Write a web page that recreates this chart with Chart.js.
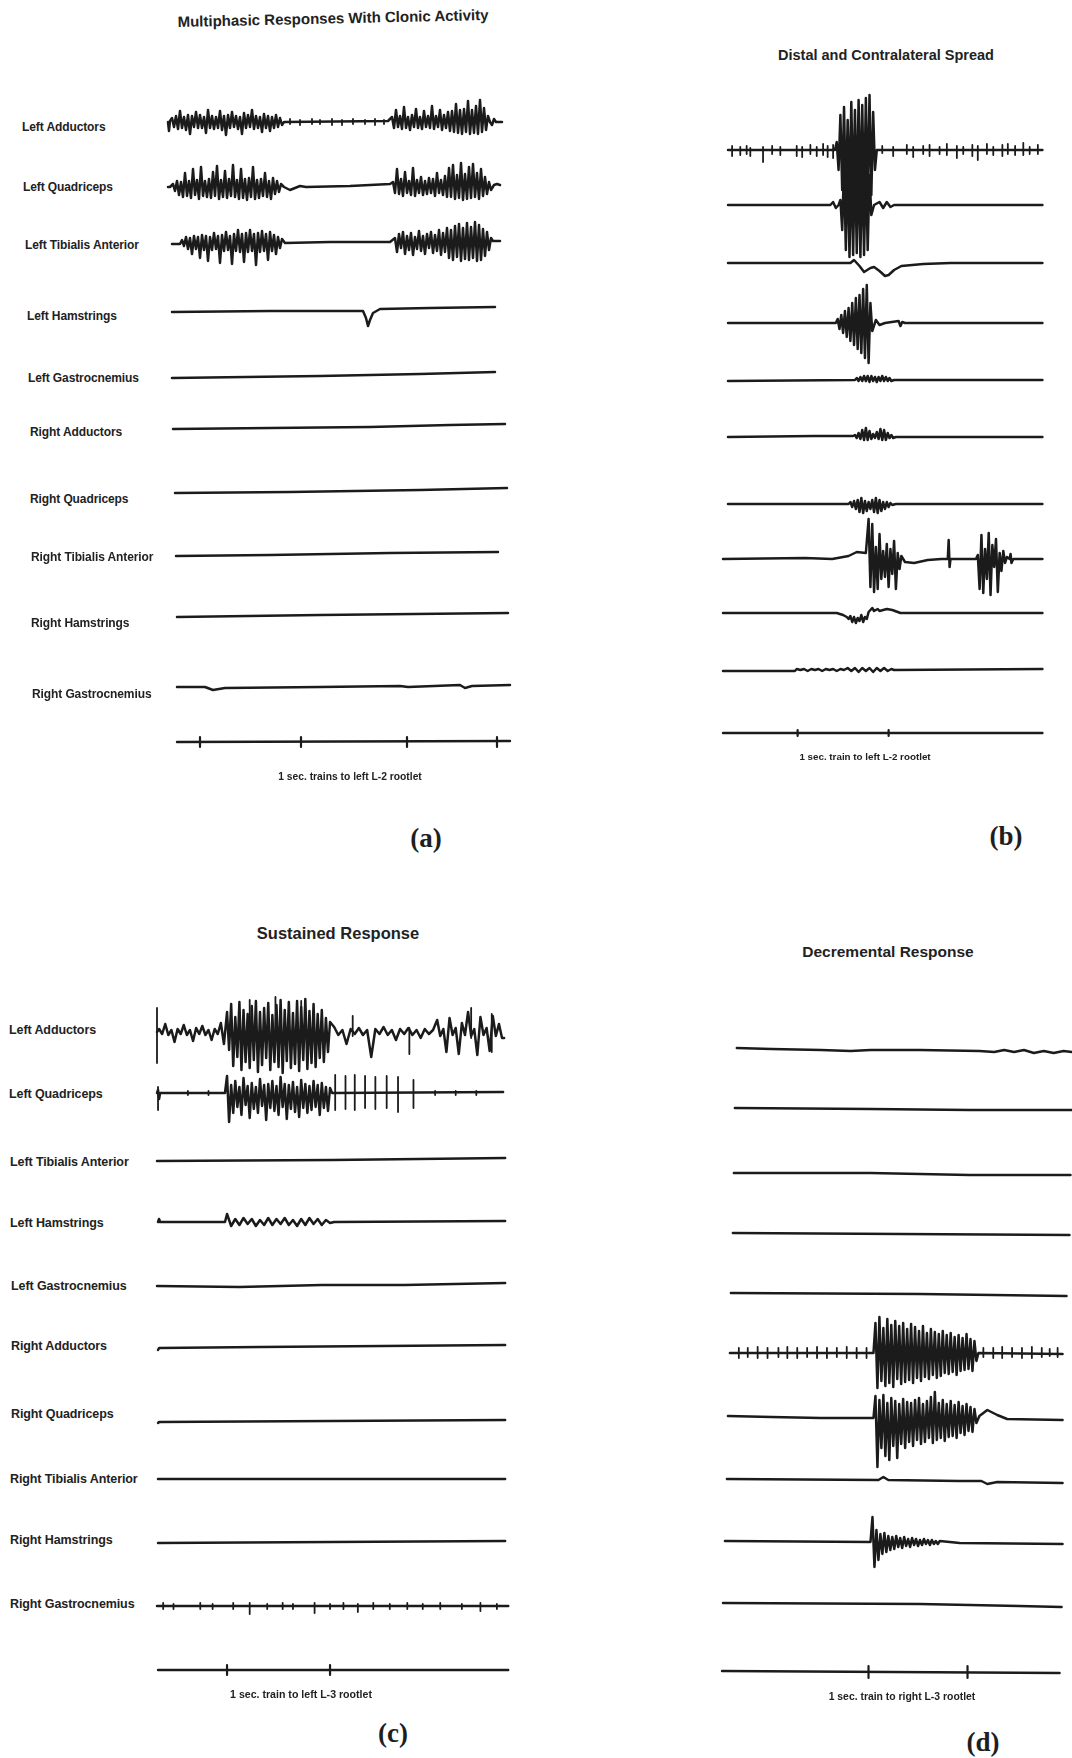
<!DOCTYPE html>
<html>
<head>
<meta charset="utf-8">
<title>EMG responses to rootlet stimulation</title>
<script src="https://cdn.jsdelivr.net/npm/chart.js@4.4.1/dist/chart.umd.min.js"></script>
<style>
  html, body { margin: 0; padding: 0; background: #fff; }
  #page { position: relative; width: 1072px; height: 1758px; overflow: hidden; background: #fff;
          font-family: "Liberation Sans", Arial, sans-serif; color: #222; }
  #page canvas { position: absolute; }
  .title { position: absolute; white-space: nowrap; font-weight: 700; transform: translate(-50%, -50%); }
  .label { position: absolute; white-space: nowrap; font-weight: 700; transform: translateY(-50%); letter-spacing: -0.1px; }
  .caption { position: absolute; white-space: nowrap; font-weight: 700; transform: translate(-50%, -50%); }
  .letter { position: absolute; font-family: "Liberation Serif", "Times New Roman", serif; font-weight: 700;
            font-size: 27px; transform: translate(-50%, -50%); color: #1e1e1e; }
</style>
</head>
<body>
<div id="page"></div>
<script>
// ---------------------------------------------------------------------------
// Recorded EMG traces. Time in seconds from the start of each sweep,
// amplitude in arbitrary display units (positive = upward deflection).
// A trace is a list of pieces: [t, v] single samples, or
// {from, step, v:[...]} runs of evenly sampled values.
// Spike lists hold isolated unit discharges as [t, up, down].
// ---------------------------------------------------------------------------

const muscles = ["Left Adductors", "Left Quadriceps", "Left Tibialis Anterior", "Left Hamstrings",
  "Left Gastrocnemius", "Right Adductors", "Right Quadriceps", "Right Tibialis Anterior",
  "Right Hamstrings", "Right Gastrocnemius"];

// ----- (a) Multiphasic responses with clonic activity -----
const stimTicksA = [0.30, 1.31, 2.37, 3.27];

const aLeftAdductors = [
  [-0.02, 0], [-0.01, -9], [0.0, 1],
  { from: 0.02, step: 0.02, v: [4,-5,6,-7,11,-6,5,-8,7,-12,6,-5,10,-6,7,-6,5,-11,12,-6,6,-7,5,-6,11,-8,6,-13,7,-6,10,-5,6,-7,5,-12,9,-6,7,-5,12,-7,6,-6,5,-10,8,-6,6,-9,5,-6,7,-5,4,-3] },
  [1.14, 0], [2.18, 1],
  { from: 2.22, step: 0.02, v: [5,-6,12,-5,6,-7,15,-6,5,-8,7,-5,13,-6,5,-7,11,-5,6,-6,16,-7,6,-5,12,-8,7,-6,10,-9,11,-10,18,-11,12,-12,13,-10,21,-12,12,-11,16,-12,22,-10,14,-8,6] },
  [3.2, 0], [3.22, -3], [3.24, 3], [3.26, 0], [3.32, 0]
];
const aLeftAdductorSpikes = [[1.2,3,2],[1.3,2,3],[1.42,3,2],[1.5,2,2],[1.62,3,3],[1.72,2,3],[1.83,3,2],[1.95,2,2],[2.05,3,3],[2.14,2,2]];
const aLeftQuadriceps = [
  [-0.02, 0], [0.0, 0],
  { from: 0.03, step: 0.02, v: [3,-4,6,-8,5,-10,14,-9,6,-11,18,-8,7,-12,20,-9,6,-10,8,-11,15,-9,21,-12,7,-10,16,-11,8,-9,22,-10,7,-12,18,-11,8,-13,9,-10,20,-12,7,-11,8,-9,14,-10,6,-12,9,-7,6,-5,3] },
  [1.14, 0], [1.2, -3], [1.25, -1], [1.3, 1], [1.36, 0], [1.8, 1], [2.2, 3],
  { from: 2.23, step: 0.02, v: [5,-6,18,-7,8,-9,15,-6,6,-8,19,-9,7,-6,10,-8,6,-7,9,-6,8,-9,14,-6,7,-8,11,-10,19,-10,22,-12,12,-11,24,-13,13,-12,20,-11,23,-10,14,-12,18,-9,10,-7,5,-3] },
  [3.24, 2], [3.27, 3], [3.3, 2]
];
const aLeftTibialis = [
  [0.02, -2], [0.1, -2],
  { from: 0.12, step: 0.02, v: [2,-4,5,-7,4,-12,6,-7,5,-16,7,-8,6,-19,5,-8,9,-7,6,-21,7,-9,10,-8,6,-22,8,-9,12,-10,8,-20,9,-10,12,-9,8,-23,9,-10,11,-9,8,-18,10,-9,7,-12,5,-6,3] },
  [1.15, -1], [1.6, 0], [2.2, 0],
  { from: 2.25, step: 0.02, v: [4,-10,8,-6,10,-12,6,-8,9,-13,5,-7,11,-9,6,-12,8,-6,10,-11,7,-9,12,-13,9,-10,14,-16,12,-18,16,-15,18,-19,14,-17,19,-18,15,-16,20,-19,17,-18,13,-14,10,-8,4] },
  [3.23, 1], [3.3, 1]
];
const aLeftHamstrings = [[0.02, 0], [1.0, 1], [1.93, 1], [1.96, -6], [1.98, -14], [2.0, -8], [2.03, -1], [2.1, 3], [2.6, 4], [3.25, 5]];
const aLeftGastrocnemius = [[0.02, -1], [1.5, 1], [2.5, 3], [3.25, 5]];
const aRightAdductors = [[0.03, -1], [1.0, 0], [2.0, 1], [2.8, 3], [3.35, 4]];
const aRightQuadriceps = [[0.05, -1], [1.2, 0], [2.5, 2], [3.37, 4]];
const aRightTibialis = [[0.06, -2], [1.0, -1], [2.2, 1], [3.28, 2]];
const aRightHamstrings = [[0.07, -2], [1.5, 0], [3.38, 2]];
const aRightGastrocnemius = [[0.07, 0], [0.35, 0], [0.43, -3], [0.55, -1], [1.5, 0], [2.3, 1], [2.38, 0], [2.9, 2], [2.95, -1], [3.02, 1], [3.4, 2]];
const aStimLine = [[0.07, 0], [3.4, 1]];

// ----- (b) Distal and contralateral spread -----
const stimTicksB = [0.82, 1.82];

const bTrace1 = [
  [0.055, 0], [1.23, 0],
  { from: 1.25, step: 0.02, v: [8,-20,35,-40,43,-50,30,-45,48,-52,40,-55,50,-48,45,-55,52,-50,55,-45,38,-20] },
  [1.69, 0], [3.51, 0]
];
const bSpikes1 = [[0.10,4,6],[0.19,3,5],[0.26,4,4],[0.30,2,6],[0.44,3,12],[0.54,4,4],[0.63,3,5],[0.81,4,6],[0.87,3,7],
  [0.96,5,4],[1.03,3,6],[1.10,6,5],[1.15,4,7],[1.21,5,8],[1.75,4,3],[1.87,3,6],[2.02,5,4],[2.09,3,7],[2.20,4,4],
  [2.27,5,6],[2.38,3,4],[2.46,6,5],[2.57,4,8],[2.64,3,4],[2.74,5,6],[2.80,4,10],[2.90,6,4],[2.97,3,5],[3.07,5,6],
  [3.13,6,4],[3.21,4,5],[3.30,7,5],[3.37,3,4],[3.46,5,4]];
const bTrace2 = [
  [0.055, 0], [1.18, 0], [1.21, 3], [1.24, -3], [1.27, 0],
  { from: 1.29, step: 0.02, v: [5,-25,40,-45,50,-52,45,-50,55,-48,52,-52,48,-50,42,-45,30,-10] },
  [1.66, 0], [1.72, 3], [1.76, -3], [1.80, 3], [1.84, -2], [1.88, 0], [3.51, 0]
];
const bTrace3 = [[0.055, 0], [1.40, 0], [1.44, 3], [1.50, -3], [1.55, -9], [1.62, -5], [1.66, -4], [1.72, -8],
  [1.78, -13], [1.82, -12], [1.88, -7], [1.96, -3], [2.2, -1], [2.5, 0], [3.51, 0]];
const bTrace4 = [
  [0.055, 0], [1.24, 0],
  { from: 1.26, step: 0.02, v: [4,-6,8,-10,12,-14,15,-18,20,-22,25,-26,28,-30,34,-35,38,-40,20,-8] },
  [1.68, 3], [1.72, -2], [1.78, 0], [1.93, 2], [1.95, -3], [1.97, 1], [2.0, 0], [3.51, 0]
];
const bTrace5 = [
  [0.055, -1], [1.45, 0],
  { from: 1.47, step: 0.02, v: [2,-1,3,-1,4,-1,4,-2,4,-1,3,-2,3,-1,4,-1,3,-1,2,-1] },
  [1.88, 0], [3.51, 0]
];
const bTrace6 = [
  [0.055, 0], [1.0, 1], [1.43, 1],
  { from: 1.45, step: 0.02, v: [2,-1,4,-2,7,-3,9,-3,6,-2,3,-1,5,-2,8,-3,7,-3,4,-1,2,-1] },
  [1.9, 0], [3.51, 0]
];
const bTrace7 = [
  [0.055, 0], [1.38, 0],
  { from: 1.40, step: 0.02, v: [2,-3,3,-5,4,-8,6,-9,3,-7,2,-5,4,-8,6,-9,4,-7,2,-5,2,-3,1,-1] },
  [1.9, 0], [3.51, 0]
];
const bTrace8 = [
  [0.0, 0], [0.9, 1], [1.2, 0], [1.38, 3], [1.47, 7], [1.57, 6],
  { from: 1.60, step: 0.02, v: [40,-28,35,-33,12,-30,25,-20,8,-18,15,-28,10,-15,18,-30,6,-10,3] },
  [2.0, -3], [2.1, -4], [2.25, -1], [2.4, 0], [2.47, 0], [2.48, 19], [2.49, -8], [2.5, 0], [2.78, 0],
  { from: 2.80, step: 0.02, v: [4,-30,24,-34,10,-20,26,-36,14,-8,20,-33,6,-12,8,-4,2] },
  [3.15, 0], [3.16, 5], [3.17, -4], [3.19, 0], [3.51, 0]
];
const bTrace9 = [
  [0.0, 0], [1.25, 0], [1.32, -2], [1.36, -4],
  { from: 1.38, step: 0.02, v: [-6,-3,-9,-4,-10,-5,-8,-2,-9,-4,-6,1,3,5,2,3,4,2] },
  [1.80, 4], [1.86, 3], [1.95, 0], [3.51, 0]
];
const bTrace10 = [
  [0.0, -1], [0.79, -1],
  { from: 0.81, step: 0.04, v: [1,0,1,-1,1,0,1,-1,1,0,1,-1,1,0,2,-1,2,-2,2,-1,2,-2,2,-1,2,-1,1] },
  [1.88, 0], [3.51, 1]
];
const bStimLine = [[0.0, 0], [3.51, 0]];

// ----- (c) Sustained response -----
const stimTicksC = [0.68, 1.68];

const cLeftAdductors = [
  [0.0, 0],
  { from: 0.02, step: 0.03, v: [3,-2,8,-3,2,-10,3,-2,7,-3,2,-9,4,-2,6,-3,2,-8,3,-2,9,-12] },
  { from: 0.68, step: 0.02, v: [20,-18,28,-34,15,-25,30,-38,22,-30,18,-36,26,-28,31,-40,20,-33,24,-26,29,-38,17,-30,27,-35,32,-41,22,-29,30,-36,19,-32,31,-39,25,-28,33,-37,21,-31,28,-35,18,-26,22,-30,14,-20,10] },
  { from: 1.72, step: 0.04, v: [5,-3,2,-12,3,-2,4,-3,2,-25,3,-2,5,-3,2,-8,3,-2,4,-3,2,-6,3,-2,2] },
  { from: 2.72, step: 0.03, v: [12,-4,3,-20,14,-3,4,-22,9,-3,20,-4,3,-23,15,-3,4,-19,16,-4,8,-6] },
  [3.37, -6]
];
const cLeftAdductorSpikes = [[0.0, 24, 31], [0.9, 32, 6], [1.15, 35, 8], [1.4, 31, 5], [1.9, 16, 4], [2.45, 4, 22], [3.05, 24, 6], [3.25, 18, 20]];
const cLeftQuadriceps = [
  [0.0, 0], [0.01, 3], [0.02, -6], [0.03, 0], [0.66, 0],
  { from: 0.68, step: 0.02, v: [17,-29,8,-20,12,-14,6,-22,15,-12,7,-25,10,-16,6,-20,14,-13,8,-27,9,-15,12,-18,7,-22,16,-14,9,-26,8,-16,11,-19,6,-24,13,-15,9,-20,7,-17,12,-14,8,-22,10,-15,6,-18,5] },
  [1.70, 0], [3.36, 1]
];
const cLeftQuadSpikes = [[0.01,6,17],[0.3,2,2],[0.5,2,2],[1.73,18,17],[1.83,17,16],[1.92,18,17],[2.02,17,15],
  [2.12,16,16],[2.23,17,15],[2.34,16,19],[2.49,13,15],[2.7,2,2],[2.9,2,2],[3.1,2,2]];
const cLeftTibialis = [[0.0, -1], [1.7, 0], [3.38, 2]];
const cLeftHamstrings = [
  [0.01, 0], [0.02, 3], [0.03, 0], [0.66, 0],
  { from: 0.68, step: 0.04, v: [8,-4,3,-3,4,-2,3,-4,2,-3,4,-3,3,-2,4,-3,2,-4,3,-3,4,-2,3,-3,2,-1] },
  [1.72, 0], [3.38, 1]
];
const cLeftGastrocnemius = [[0.0, -1], [0.8, -2], [1.6, 0], [2.4, 0], [3.38, 2]];
const cRightAdductors = [[0.01, -3], [0.02, -1], [1.0, 0], [3.38, 2]];
const cRightQuadriceps = [[0.01, -2], [0.02, -1], [3.38, 1]];
const cRightTibialis = [[0.01, 0], [3.38, 0]];
const cRightHamstrings = [[0.01, -1], [3.38, 1]];
const cRightGastrocnemius = [[0.0, 0], [3.41, 0]];
const cRightGastroSpikes = [[0.06,3,3],[0.16,2,3],[0.42,3,3],[0.54,2,3],[0.74,3,3],[0.90,3,8],[1.07,2,3],[1.22,3,3],
  [1.32,2,3],[1.53,3,7],[1.68,2,3],[1.81,3,3],[1.95,2,6],[2.10,3,3],[2.26,2,3],[2.43,3,3],[2.58,2,3],[2.75,3,3],
  [2.96,2,3],[3.14,3,5],[3.30,2,3]];
const cStimLine = [[0.01, 0], [3.41, 0]];

// ----- (d) Decremental response -----
const stimTicksD = [1.48, 2.48];

const dTrace1 = [[0.15, 1], [0.5, 0], [1.0, -1], [1.3, -2], [1.5, -1], [2.0, -1], [2.6, -2], [2.75, -3], [2.85, -1],
  [2.95, -3], [3.05, -1], [3.15, -4], [3.25, -2], [3.35, -4], [3.45, -2], [3.535, -3]];
const dTrace2 = [[0.13, 1], [1.5, 0], [2.5, -1], [3.53, -1]];
const dTrace3 = [[0.12, 0], [1.5, 0], [2.5, -2], [3.52, -2]];
const dTrace4 = [[0.11, 0], [3.51, -2]];
const dTrace5 = [[0.09, 0], [2.0, -1], [3.48, -3]];
const dTrace6 = [
  [0.08, 0], [1.53, 0],
  { from: 1.55, step: 0.02, v: [30,-35,36,-28,25,-33,34,-30,28,-34,32,-26,27,-31,30,-29,24,-27,29,-30,26,-25,22,-28,27,-24,20,-26,24,-22,21,-25,19,-23,22,-20,18,-21,20,-19,16,-22,18,-18,15,-17,19,-16,14,-18,12,-8] },
  [2.59, 0], [3.44, -1]
];
const dSpikes6 = [[0.17,5,5],[0.26,5,4],[0.36,6,5],[0.46,5,5],[0.57,5,4],[0.66,6,5],[0.76,5,5],[0.86,5,4],[0.96,6,5],
  [1.06,5,5],[1.16,5,4],[1.26,6,5],[1.36,5,5],[1.46,5,5],[2.64,5,4],[2.74,5,5],[2.83,6,5],[2.93,5,4],[3.03,5,5],
  [3.13,6,5],[3.23,5,4],[3.31,4,3],[3.39,5,4]];
const dTrace7 = [
  [0.06, 2], [0.5, 1], [1.0, 0], [1.53, 0],
  { from: 1.55, step: 0.02, v: [22,-49,18,-30,23,-38,15,-42,20,-28,17,-40,14,-26,19,-30,16,-24,15,-28,18,-22,20,-26,14,-24,17,-20,21,-25,26,-22,15,-20,18,-23,14,-19,17,-18,13,-20,16,-15,12,-17,14,-13,11,-14,9,-5] },
  [2.60, 2], [2.68, 8], [2.78, 3], [2.88, -1], [3.44, -2]
];
const dTrace8 = [[0.05, 1], [1.58, 0], [1.63, 3], [1.68, 0], [2.4, -1], [2.62, -1], [2.68, -4], [2.78, -2], [3.44, -3]];
const dTrace9 = [
  [0.03, 1], [1.50, 0],
  { from: 1.52, step: 0.02, v: [25,-25,12,-18,8,-12,9,-10,6,-8,5,-7,6,-5,4,-6,5,-4,3,-5,4,-3,3,-4,2,-3,3,-2,2,-3,2,-2,1,-2,1] },
  [2.4, -1], [3.44, -2]
];
const dTrace10 = [[0.01, 1], [2.0, 0], [3.0, -2], [3.43, -3]];
const dStimLine = [[0.0, 1], [3.41, -1]];

// ---------------------------------------------------------------------------
// Page layout: each panel gets its own canvas; x maps seconds, y maps the
// stacked channel baselines (display px from the canvas top).
// ---------------------------------------------------------------------------
const INK = '#1b1b1b';

const panels = [
  { left: 150, top: 80, width: 380, height: 700, origin: 170, pxPerSec: 100,
    rows: [42, 107, 162, 232, 297, 348, 412, 474, 535, 607], markerRow: 662,
    traces: [aLeftAdductors, aLeftQuadriceps, aLeftTibialis, aLeftHamstrings, aLeftGastrocnemius,
             aRightAdductors, aRightQuadriceps, aRightTibialis, aRightHamstrings, aRightGastrocnemius],
    spikes: [[0, aLeftAdductorSpikes]], marker: aStimLine, ticks: stimTicksA, tickSize: 5 },
  { left: 700, top: 70, width: 360, height: 690, origin: 723, pxPerSec: 91,
    rows: [80, 135, 193, 253, 310, 367, 434, 489, 543, 600], markerRow: 663,
    traces: [bTrace1, bTrace2, bTrace3, bTrace4, bTrace5, bTrace6, bTrace7, bTrace8, bTrace9, bTrace10],
    spikes: [[0, bSpikes1]], marker: bStimLine, ticks: stimTicksB, tickSize: 3 },
  { left: 140, top: 970, width: 380, height: 740, origin: 157, pxPerSec: 103,
    rows: [62, 123, 190, 252, 315, 377, 451, 509, 572, 636], markerRow: 700,
    traces: [cLeftAdductors, cLeftQuadriceps, cLeftTibialis, cLeftHamstrings, cLeftGastrocnemius,
             cRightAdductors, cRightQuadriceps, cRightTibialis, cRightHamstrings, cRightGastrocnemius],
    spikes: [[0, cLeftAdductorSpikes], [1, cLeftQuadSpikes], [9, cRightGastroSpikes]],
    marker: cStimLine, ticks: stimTicksC, tickSize: 5 },
  { left: 710, top: 990, width: 362, height: 720, origin: 722, pxPerSec: 99,
    rows: [59, 119, 183, 243, 303, 363, 428, 490, 552, 614], markerRow: 682,
    traces: [dTrace1, dTrace2, dTrace3, dTrace4, dTrace5, dTrace6, dTrace7, dTrace8, dTrace9, dTrace10],
    spikes: [[5, dSpikes6]], marker: dStimLine, ticks: stimTicksD, tickSize: 6 }
];

const texts = [
  { cls: 'title', x: 333, y: 18, size: 15, rot: -1.3, text: "Multiphasic Responses With Clonic Activity" },
  { cls: 'title', x: 886, y: 55, size: 14.5, text: "Distal and Contralateral Spread" },
  { cls: 'title', x: 338, y: 933, size: 16.5, text: "Sustained Response" },
  { cls: 'title', x: 888, y: 952, size: 15.5, text: "Decremental Response" },
  { cls: 'caption', x: 350, y: 776, size: 10.3, text: "1 sec. trains to left L-2 rootlet" },
  { cls: 'caption', x: 865, y: 756, size: 9.8, text: "1 sec. train to left L-2 rootlet" },
  { cls: 'caption', x: 301, y: 1694, size: 10.6, text: "1 sec.  train to left L-3 rootlet" },
  { cls: 'caption', x: 902, y: 1696, size: 10.4, text: "1 sec. train to right L-3 rootlet" },
  { cls: 'letter', x: 426, y: 838, text: "(a)" },
  { cls: 'letter', x: 1006, y: 836, text: "(b)" },
  { cls: 'letter', x: 393, y: 1733, text: "(c)" },
  { cls: 'letter', x: 983, y: 1742, text: "(d)" }
];
const labelPosA = [[22,127],[23,187],[25,245],[27,316],[28,378],[30,432],[30,499],[31,557],[31,623],[32,694]];
const labelPosC = [[9,1030],[9,1094],[10,1162],[10,1223],[11,1286],[11,1346],[11,1414],[10,1479],[10,1540],[10,1604]];

// ---------------------------------------------------------------------------
const page = document.getElementById('page');

function tracePoints(pieces, row) {
  const pts = [];
  for (const p of pieces) {
    if (Array.isArray(p)) {
      pts.push({ x: p[0], y: row - p[1] });
    } else {
      p.v.forEach((v, i) => pts.push({ x: p.from + i * p.step, y: row - v }));
    }
  }
  return pts;
}

function spikePoints(spikes, row) {
  const pts = [];
  for (const [t, up, down] of spikes) {
    pts.push({ x: t, y: row - up }, { x: t, y: row + down }, { x: t, y: null });
  }
  return pts;
}

function lineSet(data, width) {
  return { data, borderColor: INK, borderWidth: width, pointRadius: 0, fill: false, tension: 0,
           spanGaps: false, borderJoinStyle: 'round', borderCapStyle: 'round' };
}

panels.forEach(p => {
  const canvas = document.createElement('canvas');
  canvas.width = p.width; canvas.height = p.height;
  canvas.style.left = p.left + 'px'; canvas.style.top = p.top + 'px';
  canvas.style.width = p.width + 'px'; canvas.style.height = p.height + 'px';
  page.appendChild(canvas);

  const datasets = p.traces.map((tr, i) => lineSet(tracePoints(tr, p.rows[i]), 2.5));
  p.spikes.forEach(([idx, list]) => datasets.push(lineSet(spikePoints(list, p.rows[idx]), 1.8)));
  datasets.push(lineSet(tracePoints(p.marker, p.markerRow), 2.4));
  datasets.push(lineSet(spikePoints(p.ticks.map(t => [t, p.tickSize, p.tickSize]), p.markerRow), 2.2));

  new Chart(canvas, {
    type: 'line',
    data: { datasets },
    options: {
      responsive: false, animation: false, devicePixelRatio: 1, events: [],
      layout: { padding: 0 },
      plugins: { legend: { display: false }, tooltip: { enabled: false }, title: { display: false } },
      scales: {
        x: { type: 'linear', display: false, offset: false,
             min: (p.left - p.origin) / p.pxPerSec, max: (p.left + p.width - p.origin) / p.pxPerSec },
        y: { type: 'linear', display: false, reverse: true, min: 0, max: p.height }
      }
    }
  });
});

function addText(cls, x, y, text, size, rot) {
  const el = document.createElement('div');
  el.className = cls;
  el.textContent = text;
  el.style.left = x + 'px';
  el.style.top = y + 'px';
  if (size) el.style.fontSize = size + 'px';
  if (rot) el.style.transform = 'translate(-50%, -50%) rotate(' + rot + 'deg)';
  page.appendChild(el);
}
texts.forEach(t => addText(t.cls, t.x, t.y, t.text, t.size, t.rot));
muscles.forEach((m, i) => {
  addText('label', labelPosA[i][0], labelPosA[i][1], m, 12);
  addText('label', labelPosC[i][0], labelPosC[i][1], m, 12.5);
});
</script>
</body>
</html>
